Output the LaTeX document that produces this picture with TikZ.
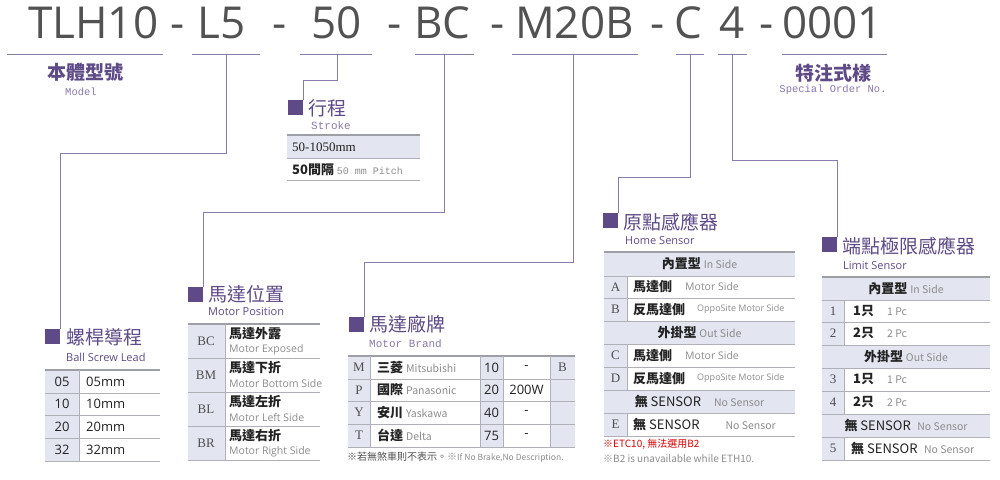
\documentclass[tikz,border=0pt]{standalone}
\usepackage{fontspec}
\setmainfont{Open Sans}
\newfontfamily\cjk{Noto Sans CJK TC}
\newfontfamily\mono{Liberation Mono}
\newfontfamily\rom{Liberation Serif}
\definecolor{ttl}{HTML}{5E4A86}
\definecolor{lnk}{HTML}{8A7AAA}
\definecolor{shd}{HTML}{E3E5F1}
\definecolor{grd}{HTML}{B0B0B8}
\definecolor{dk}{HTML}{222222}
\definecolor{gy}{HTML}{8C8C8C}
\tikzset{
  hdr/.style={anchor=base west,inner sep=0,text=black!68,font=\fontsize{44}{44}\selectfont},
  uline/.style={draw=lnk,line width=1pt},
  link/.style={draw=lnk,line width=1pt},
  sq/.style={fill=ttl,minimum size=15pt,inner sep=0,anchor=north west},
  ttlzh/.style={anchor=west,inner sep=0,text=ttl,font=\cjk\fontsize{19}{19}\selectfont},
  ttlen/.style={anchor=west,inner sep=0,text=ttl,font=\fontsize{11}{11}\selectfont},
  ttlmono/.style={anchor=west,inner sep=0,text=lnk,font=\mono\fontsize{11}{11}\selectfont},
  code/.style={inner sep=0,text=dk!80,font=\rom\fontsize{13}{13}\selectfont},
  txt/.style={anchor=west,inner sep=0,text=dk,font=\cjk\fontsize{13}{13}\selectfont},
  sub/.style={text=gy,font=\fontsize{10.5}{10.5}\selectfont},
  grid/.style={draw=grd,line width=0.8pt},
  topline/.style={draw=grd!90!black,line width=1.4pt}
}
\newcommand{\zh}[1]{{\cjk\bfseries #1}}
\newcommand{\en}[1]{{\fontsize{10.5}{10.5}\selectfont\color{gy}#1}}
\begin{document}
\begin{tikzpicture}[x=1pt,y=-1pt]
\useasboundingbox (0,0) rectangle (1000,479);

% part number
\node[hdr] (pModel) at (28,38) {TLH10};
\node[hdr] at (170,38) {-};
\node[hdr] (pLead) at (197,38) {L5};
\node[hdr] at (272,38) {-};
\node[hdr] (pStroke) at (311,38) {50};
\node[hdr] at (387,38) {-};
\node[hdr] (pPos) at (414,38) {BC};
\node[hdr] at (490,38) {-};
\node[hdr] (pBrand) at (515,38) {M20B};
\node[hdr] at (650,38) {-};
\node[hdr] (pHome) at (674,38) {C};
\node[hdr] (pLimit) at (719,38) {4};
\node[hdr] at (759,38) {-};
\node[hdr] (pSpec) at (782,38) {0001};

% underlines
\draw[uline] (7,54) -- (163,54);
\draw[uline] (192,54) -- (260,54);
\draw[uline] (300,54) -- (372,54);
\draw[uline] (415,54) -- (474,54);
\draw[uline] (512,54) -- (638,54);
\draw[uline] (676,54) -- (704,54);
\draw[uline] (718,54) -- (747,54);
\draw[uline] (782,54) -- (887,54);
\coordinate (uLead) at (226,54);
\coordinate (uStroke) at (337,54);
\coordinate (uPos) at (444,54);
\coordinate (uBrand) at (573,54);
\coordinate (uHome) at (690,54);
\coordinate (uLimit) at (732,54);

\node[anchor=center,inner sep=0,text=ttl,font=\cjk\bfseries\fontsize{19}{19}\selectfont] (tModel) at (85,72) {本體型號};
\node[anchor=center,inner sep=0,text=lnk,font=\mono\fontsize{10.5}{10.5}\selectfont] at (81,92) {Model};
\node[anchor=center,inner sep=0,text=ttl,font=\cjk\bfseries\fontsize{19}{19}\selectfont] (tSpec) at (833,73) {特注式樣};
\node[anchor=center,inner sep=0,text=lnk,font=\mono\fontsize{10.5}{10.5}\selectfont] at (833,90) {Special Order No.};

% section squares
\node[sq] (sqLead) at (45,329) {};
\node[sq] (sqStroke) at (288,100) {};
\node[sq] (sqPos) at (188,287) {};
\node[sq] (sqBrand) at (349,317) {};
\node[sq] (sqHome) at (603,213) {};
\node[sq] (sqLimit) at (822,237) {};

% connectors
\draw[link] (uLead) -- (226,153) -| (sqLead.north east);
\draw[link] (uStroke) -- (337,80) -| (sqStroke.north east);
\draw[link] (uPos) -- (444,212) -| (sqPos.north east);
\draw[link] (uBrand) -- (573,262) -| (sqBrand.north east);
\draw[link] (uHome) -- (690,177) -| (sqHome.north east);
\draw[link] (uLimit) -- (732,160) -| (sqLimit.north east);

% ---- ball screw lead
\node[ttlzh] at (66,337) {螺桿導程};
\node[ttlen] at (66,357) {Ball Screw Lead};
\fill[shd] (45,370) rectangle (79,461);
\foreach \y in {393,415,438} \draw[grid] (45,\y) -- (160,\y);
\draw[topline] (45,370) -- (160,370);
\draw[grid] (45,461) -- (160,461);
\draw[grid] (79,370) -- (79,461);
\foreach \c/\y in {05/381.5,10/404,20/426.5,32/449.5}{
  \node[inner sep=0,text=dk,font=\fontsize{13}{13}\selectfont] at (62,\y) {\c};
  \node[txt,font=\fontsize{13}{13}\selectfont] at (86,\y) {\c mm};
}

% ---- stroke
\node[ttlzh] at (308,108) {行程};
\node[ttlmono] at (311,126) {Stroke};
\fill[shd] (287,135) rectangle (420,158);
\draw[topline] (287,135) -- (420,135);
\draw[grid] (287,158) -- (420,158);
\draw[grid] (287,180) -- (420,180);
\node[txt,font=\rom\fontsize{13}{13}\selectfont] at (292,147) {50-1050mm};
\node[txt] at (292,169.5) {\zh{50間隔} {\mono\fontsize{10}{10}\selectfont\color{gy}50 mm Pitch}};

% ---- motor position
\node[ttlzh] at (208,294) {馬達位置};
\node[ttlen] at (208,312) {Motor Position};
\fill[shd] (188,324) rectangle (225,460);
\draw[topline] (188,324) -- (320,324);
\foreach \y in {358,392,426,460} \draw[grid] (188,\y) -- (320,\y);
\draw[grid] (225,324) -- (225,460);
\foreach \c/\z/\e/\y in {BC/馬達外露/Motor Exposed/324,BM/馬達下折/Motor Bottom Side/358,BL/馬達左折/Motor Left Side/392,BR/馬達右折/Motor Right Side/426}{
  \node[code] at (206,\y+17) {\c};
  \node[txt] at (229,\y+10) {\zh{\z}};
  \node[anchor=west,inner sep=0,sub] at (229,\y+26) {\e};
}

% ---- motor brand
\node[ttlzh] at (369,324) {馬達廠牌};
\node[ttlmono] at (369,344) {Motor Brand};
\fill[shd] (348,356) rectangle (370,447);
\fill[shd] (480,356) rectangle (503,447);
\fill[shd] (550,356) rectangle (575,447);
\draw[topline] (348,356) -- (575,356);
\foreach \y in {379,401,424,447} \draw[grid] (348,\y) -- (575,\y);
\foreach \x in {370,480,503,550} \draw[grid] (\x,356) -- (\x,447);
\foreach \c/\z/\e/\p/\w/\y in {M/三菱/Mitsubishi/10/-/367.5,P/國際/Panasonic/20/200W/390,Y/安川/Yaskawa/40/-/412.5,T/台達/Delta/75/-/435.5}{
  \node[code] at (359,\y) {\c};
  \node[txt] at (377,\y) {\zh{\z} \en{\e}};
  \node[inner sep=0,text=dk,font=\fontsize{13}{13}\selectfont] at (491.5,\y) {\p};
  \node[inner sep=0,text=dk,font=\fontsize{13}{13}\selectfont] at (526.5,\y) {\w};
}
\node[code] at (562.5,367.5) {B};
\node[anchor=west,inner sep=0,text=dk!80,font=\cjk\fontsize{10}{10}\selectfont] at (347,457) {※若無煞車則不表示。{\color{gy}※}{\fontsize{8.5}{8.5}\selectfont\color{gy}If No Brake,No Description.}};

% ---- home sensor
\node[ttlzh] at (623,222) {原點感應器};
\node[ttlen] at (625,241) {Home Sensor};
\fill[shd] (604,252) rectangle (795,276);
\fill[shd] (604,321) rectangle (795,344);
\fill[shd] (604,390) rectangle (795,413);
\fill[shd] (604,276) rectangle (627,321);
\fill[shd] (604,344) rectangle (627,390);
\fill[shd] (604,413) rectangle (627,436);
\draw[topline] (604,252) -- (795,252);
\foreach \y in {276,298,321,344,367,390,413,436} \draw[grid] (604,\y) -- (795,\y);
\draw[grid] (627,276) -- (627,321);
\draw[grid] (627,344) -- (627,390);
\draw[grid] (627,413) -- (627,436);
\node[txt,anchor=center] at (699.5,264) {\zh{內置型} \en{In Side}};
\node[txt,anchor=center] at (699.5,332.5) {\zh{外掛型} \en{Out Side}};
\node[txt,anchor=center] at (699.5,401.5) {\zh{無} SENSOR\quad\en{No Sensor}};
\foreach \c/\z/\y in {A/馬達側/287,B/反馬達側/309.5,C/馬達側/355.5,D/反馬達側/378.5}{
  \node[code] at (615.5,\y) {\c};
  \node[txt] at (633,\y) {\zh{\z}};
}
\node[anchor=west,inner sep=0,sub] at (685,287) {Motor Side};
\node[anchor=west,inner sep=0,sub,font=\fontsize{9}{9}\selectfont] at (697,309.5) {OppoSite Motor Side};
\node[anchor=west,inner sep=0,sub] at (685,355.5) {Motor Side};
\node[anchor=west,inner sep=0,sub,font=\fontsize{9}{9}\selectfont] at (697,378.5) {OppoSite Motor Side};
\node[code] at (615.5,424.5) {E};
\node[txt] at (633,424.5) {\zh{無} SENSOR\qquad\en{No Sensor}};
\node[anchor=west,inner sep=0,text=red!85!black,font=\cjk\fontsize{10}{10}\selectfont] at (603,444) {※ETC10, 無法選用B2};
\node[anchor=west,inner sep=0,text=gy,font=\cjk\fontsize{10}{10}\selectfont] at (603,459) {※B2 is unavailable while ETH10.};

% ---- limit sensor
\node[ttlzh] at (842,246) {端點極限感應器};
\node[ttlen] at (843,266) {Limit Sensor};
\fill[shd] (822,277) rectangle (990,300);
\fill[shd] (822,345) rectangle (990,368);
\fill[shd] (822,414) rectangle (990,437);
\fill[shd] (822,300) rectangle (844,345);
\fill[shd] (822,368) rectangle (844,414);
\fill[shd] (822,437) rectangle (844,460);
\draw[topline] (822,277) -- (990,277);
\foreach \y in {300,322,345,368,391,414,437,460} \draw[grid] (822,\y) -- (990,\y);
\draw[grid] (844,300) -- (844,345);
\draw[grid] (844,368) -- (844,414);
\draw[grid] (844,437) -- (844,460);
\node[txt,anchor=center] at (906,288.5) {\zh{內置型} \en{In Side}};
\node[txt,anchor=center] at (906,356.5) {\zh{外掛型} \en{Out Side}};
\node[txt,anchor=center] at (906,425.5) {\zh{無} SENSOR\; \en{No Sensor}};
\foreach \c/\k/\y in {1/1/311,2/2/333.5,3/1/379.5,4/2/402.5}{
  \node[code] at (833,\y) {\c};
  \node[txt] at (853,\y) {\zh{{\k}只}\quad\en{{\k} Pc}};
}
\node[code] at (833,448.5) {5};
\node[txt] at (851,448.5) {\zh{無} SENSOR\; \en{No Sensor}};
\end{tikzpicture}
\end{document}
